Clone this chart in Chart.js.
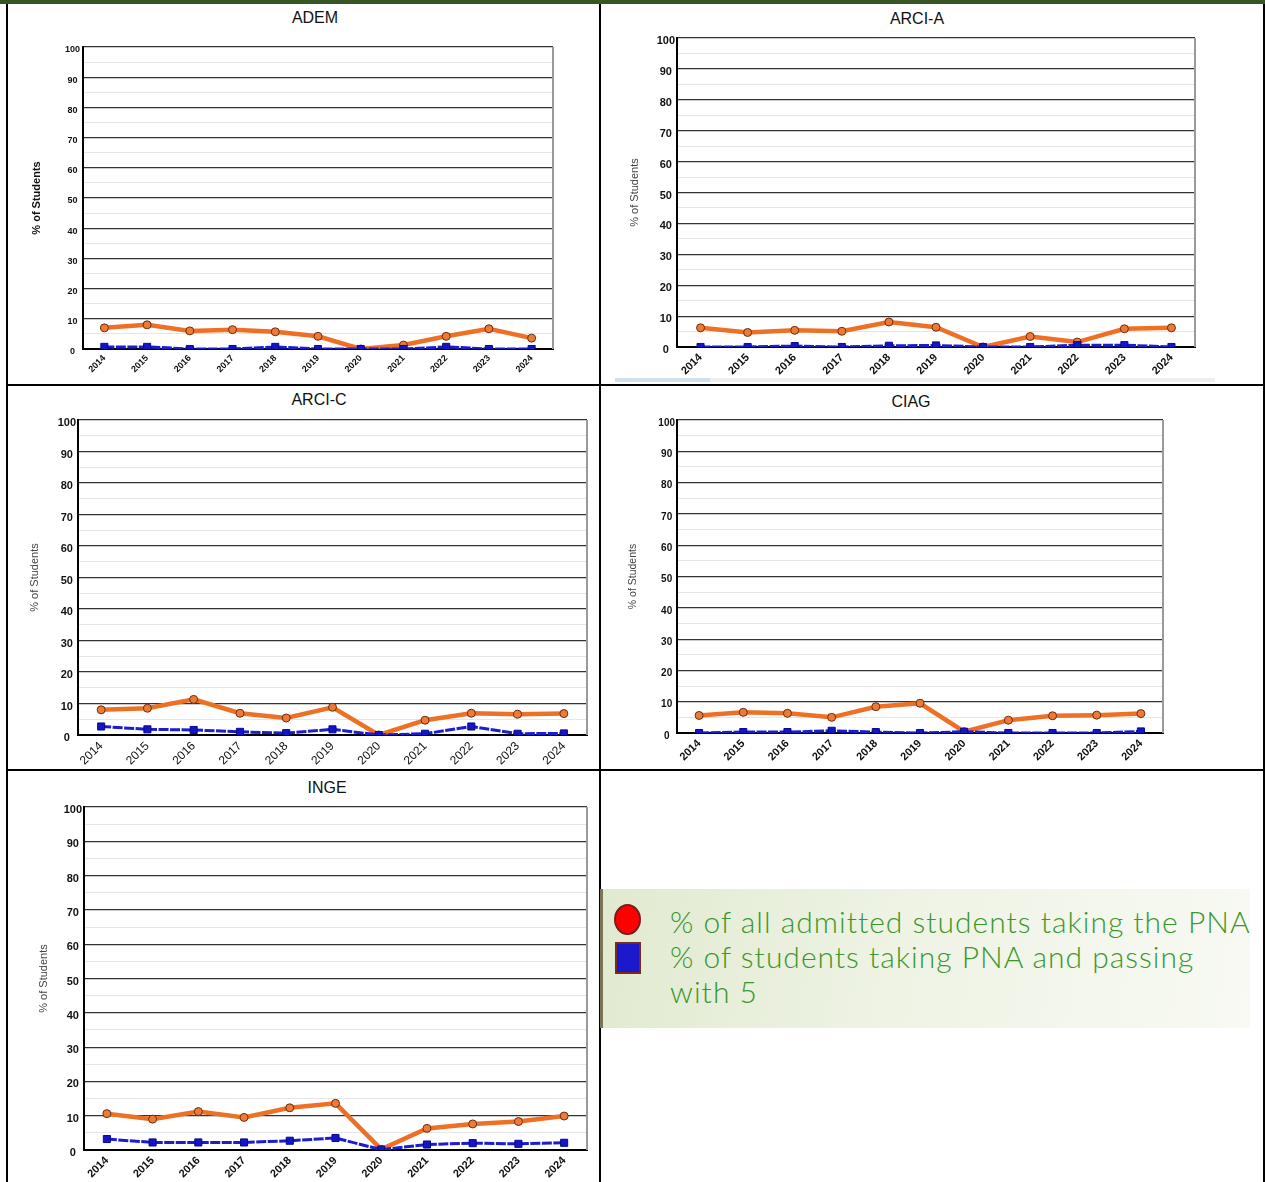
<!DOCTYPE html>
<html>
<head>
<meta charset="utf-8">
<script src="https://cdn.jsdelivr.net/npm/chart.js@4.4.1/dist/chart.umd.min.js"></script>
<style>
body { margin: 0; background: #fff; }
#page { position: relative; width: 1265px; height: 1182px; overflow: hidden; font-family: "Liberation Sans", Arial, sans-serif; }
.rule { position: absolute; background: #000; }
.ttl { position: absolute; font-size: 16px; line-height: 18px; transform: translateX(-50%); white-space: nowrap; color: #111; }
canvas { position: absolute; }
#legend { position: absolute; left: 600px; top: 889px; width: 647px; height: 139px; border-left: 3px solid #7d7458;
  background: linear-gradient(100deg, #e1ead0 0%, #eef3e4 45%, #f8faf3 100%); }
#legend .circ { position: absolute; left: 11px; top: 15px; width: 23px; height: 27px; border-radius: 50%; background: #ff0000; border: 2px solid #7a1c1c; }
#legend .sq { position: absolute; left: 12px; top: 53px; width: 22px; height: 28px; background: #1a1acc; border: 2px solid #7a2a1a; }
#legend .txt { position: absolute; left: 67px; top: 15px; font-family: "Lato", sans-serif; font-weight: 300; font-size: 30px; line-height: 35px; color: #3b962e; white-space: nowrap; letter-spacing: 1px; }
</style>
</head>
<body>
<div id="page">
  <div class="rule" style="left:0;top:0;width:1265px;height:4px;background:#375623"></div>
  <div class="rule" style="left:6px;top:4px;width:2px;height:1178px"></div>
  <div class="rule" style="left:599px;top:4px;width:2px;height:1178px"></div>
  <div class="rule" style="left:1263px;top:4px;width:2px;height:1178px"></div>
  <div class="rule" style="left:6px;top:384px;width:1259px;height:2px"></div>
  <div class="rule" style="left:6px;top:769px;width:1259px;height:2px"></div>
  <div class="rule" style="left:615px;top:378px;width:600px;height:4px;background:#eceef0"></div>
  <div class="rule" style="left:615px;top:378px;width:95px;height:4px;background:#cfe0f0"></div>

  <div class="ttl" style="left:315px;top:9px">ADEM</div>
  <div class="ttl" style="left:917px;top:10px">ARCI-A</div>
  <div class="ttl" style="left:319px;top:391px">ARCI-C</div>
  <div class="ttl" style="left:911px;top:393px">CIAG</div>
  <div class="ttl" style="left:327px;top:779px">INGE</div>

  <canvas id="c1"></canvas>
  <canvas id="c2"></canvas>
  <canvas id="c3"></canvas>
  <canvas id="c4"></canvas>
  <canvas id="c5"></canvas>

  <div id="legend">
    <div class="circ"></div>
    <div class="sq"></div>
    <div class="txt">% of all admitted students taking the PNA<br>% of students taking PNA and passing<br>with 5</div>
  </div>
</div>

<script>
const years = ['2014','2015','2016','2017','2018','2019','2020','2021','2022','2023','2024'];

// % of all admitted students taking the PNA
const ademAll  = [7.0, 8.0, 6.0, 6.4, 5.7, 4.2, 0.0, 1.3, 4.2, 6.7, 3.6];
const arciAAll = [6.2, 4.7, 5.4, 5.1, 8.1, 6.4, 0.0, 3.4, 1.6, 5.9, 6.2];
const arciCAll = [8.0, 8.5, 11.3, 6.9, 5.4, 8.8, 0.0, 4.7, 6.9, 6.6, 6.8];
const ciagAll  = [5.6, 6.6, 6.3, 5.0, 8.4, 9.5, 0.4, 4.1, 5.5, 5.7, 6.2];
const ingeAll  = [10.6, 9.0, 11.2, 9.5, 12.3, 13.6, 0.2, 6.3, 7.6, 8.3, 9.9];

// % of students taking PNA and passing with 5
const ademPass  = [0.7, 0.7, 0.0, 0.0, 0.7, 0.0, 0.0, 0.0, 0.7, 0.0, 0.0];
const arciAPass = [0.0, 0.0, 0.3, 0.0, 0.4, 0.5, 0.0, 0.0, 0.6, 0.6, 0.0];
const arciCPass = [2.7, 1.8, 1.6, 1.0, 0.6, 1.8, 0.0, 0.4, 2.7, 0.4, 0.5];
const ciagPass  = [0.0, 0.3, 0.3, 0.7, 0.3, 0.0, 0.4, 0.0, 0.0, 0.0, 0.5];
const ingePass  = [3.2, 2.2, 2.2, 2.2, 2.7, 3.5, 0.1, 1.6, 2.0, 1.8, 2.1];

const yMin = 0, yMax = 100, yStep = 5;
const yTitle = '% of Students';

// grey right edge of the plot box
const rightEdge = {
  id: 'rightEdge',
  beforeDatasetsDraw(chart) {
    const a = chart.chartArea, ctx = chart.ctx;
    ctx.save();
    ctx.strokeStyle = '#9a9a9a';
    ctx.lineWidth = 2;
    ctx.beginPath();
    ctx.moveTo(a.right, a.top);
    ctx.lineTo(a.right, a.bottom);
    ctx.stroke();
    ctx.restore();
  }
};

function grafic(id, all, pass, cfg) {
  const cv = document.getElementById(id);
  const [cl, ct, cw, ch] = cfg.box;
  const [pl, pt, pr, pb] = cfg.plot;
  cv.style.left = cl + 'px';
  cv.style.top = ct + 'px';
  cv.width = cw;
  cv.height = ch;

  const lh = cfg.yTitleFont.size * 1.2;
  const padLeft = cfg.yTitleX - cl - lh / 2;
  const yW = pl - cl - padLeft;
  const xH = ct + ch - pb;

  new Chart(cv.getContext('2d'), {
    type: 'line',
    data: {
      labels: years,
      datasets: [
        {
          label: 'taking PNA and passing with 5',
          data: pass,
          order: 0,
          borderColor: '#1c1cd0',
          borderWidth: 3,
          borderDash: [10, 1.5],
          pointStyle: 'rect',
          pointRadius: 5,
          pointBackgroundColor: '#1414c8',
          pointBorderColor: '#0a0a8a',
          pointBorderWidth: 1,
          tension: 0
        },
        {
          label: 'all admitted taking PNA',
          data: all,
          order: 1,
          borderColor: '#ee7024',
          borderWidth: 4.5,
          pointRadius: 4,
          pointBackgroundColor: '#ee7a36',
          pointBorderColor: '#6b2e0e',
          pointBorderWidth: 1,
          tension: 0
        }
      ]
    },
    options: {
      responsive: false,
      animation: false,
      layout: { padding: { left: padLeft, top: pt - ct, right: cl + cw - pr, bottom: 0 } },
      plugins: { legend: { display: false }, tooltip: { enabled: false } },
      scales: {
        x: {
          type: 'category',
          offset: true,
          grid: { display: false, drawTicks: false },
          border: { display: true, color: '#000', width: 2 },
          ticks: {
            color: '#111',
            font: cfg.xFont,
            maxRotation: 45,
            minRotation: 45,
            autoSkip: false,
            padding: 4
          },
          afterFit(s) { s.height = xH; }
        },
        y: {
          min: yMin,
          max: yMax,
          grid: {
            drawTicks: false,
            color: c => (c.tick && c.tick.value % 10 === 0) ? '#333' : '#e6e6e6',
            lineWidth: c => (c.tick && c.tick.value % 10 === 0) ? 1.2 : 1
          },
          border: { display: true, color: '#000', width: 2 },
          ticks: {
            stepSize: yStep,
            autoSkip: false,
            color: '#111',
            font: cfg.yFont,
            crossAlign: 'center',
            padding: cfg.yPad,
            labelOffset: 3,
            callback: v => (v % 10 === 0 ? v : '')
          },
          title: {
            display: true,
            text: yTitle,
            color: cfg.yTitleColor,
            font: cfg.yTitleFont,
            padding: 0
          },
          afterFit(s) { s.width = yW; }
        }
      }
    },
    plugins: [rightEdge]
  });
}

const ff = '"Liberation Sans", Arial, sans-serif';

grafic('c1', ademAll, ademPass, {
  box: [9, 5, 589, 379], plot: [83, 47, 553, 349],
  yTitleX: 37, yTitleColor: '#111', yTitleFont: { family: ff, size: 11, weight: 'bold' },
  yFont: { family: ff, size: 9, weight: 'bold' }, yPad: 3,
  xFont: { family: ff, size: 9, weight: 'bold' }
});
grafic('c2', arciAAll, arciAPass, {
  box: [602, 5, 660, 372], plot: [677, 38, 1195, 347],
  yTitleX: 635, yTitleColor: '#444', yTitleFont: { family: ff, size: 11 },
  yFont: { family: ff, size: 11, weight: 'bold' }, yPad: 2,
  xFont: { family: ff, size: 11, weight: 'bold' }
});
grafic('c3', arciCAll, arciCPass, {
  box: [9, 387, 589, 381], plot: [78, 420, 587, 735],
  yTitleX: 35, yTitleColor: '#444', yTitleFont: { family: ff, size: 11 },
  yFont: { family: ff, size: 11, weight: 'bold' }, yPad: 2,
  xFont: { family: ff, size: 12 }
});
grafic('c4', ciagAll, ciagPass, {
  box: [602, 387, 660, 381], plot: [677, 420, 1163, 733],
  yTitleX: 633, yTitleColor: '#444', yTitleFont: { family: ff, size: 10.5 },
  yFont: { family: ff, size: 10, weight: 'bold' }, yPad: 2,
  xFont: { family: ff, size: 11, weight: 'bold' }
});
grafic('c5', ingeAll, ingePass, {
  box: [9, 772, 589, 410], plot: [84, 807, 587, 1150],
  yTitleX: 44, yTitleColor: '#444', yTitleFont: { family: ff, size: 11 },
  yFont: { family: ff, size: 11, weight: 'bold' }, yPad: 2,
  xFont: { family: ff, size: 11, weight: 'bold' }
});
</script>
</body>
</html>
